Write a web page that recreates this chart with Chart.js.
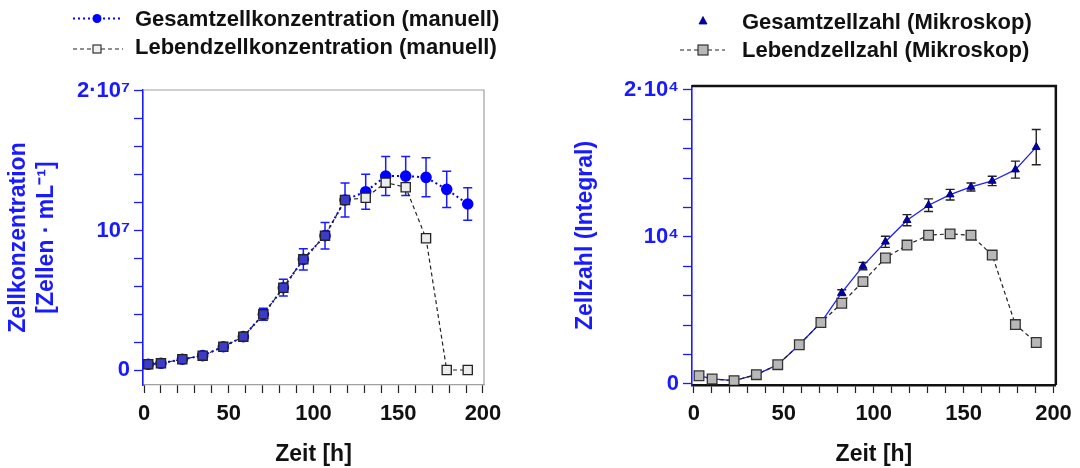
<!DOCTYPE html>
<html><head><meta charset="utf-8">
<script src="https://cdn.jsdelivr.net/npm/chart.js@4.4.1/dist/chart.umd.min.js"></script>
<style>
body{margin:0;background:#fff;width:1080px;height:468px;overflow:hidden;position:relative;font-family:"Liberation Sans",Arial,sans-serif;}
canvas{position:absolute;top:0;}
.leg{position:absolute;font-weight:bold;font-size:22px;color:#111;white-space:nowrap;line-height:26px;}
svg{position:absolute;left:0;top:0;}
</style></head><body>
<canvas id="c1" width="540" height="468" style="left:0"></canvas>
<canvas id="c2" width="540" height="468" style="left:540px"></canvas>
<svg width="1080" height="70">
  <line x1="73" y1="18.5" x2="123" y2="18.5" stroke="#0000ff" stroke-width="2" stroke-dasharray="2,3"/>
  <circle cx="97" cy="18.5" r="4.5" fill="#0000ff"/>
  <line x1="73" y1="49" x2="123" y2="49" stroke="#222" stroke-width="1.2" stroke-dasharray="4,3"/>
  <rect x="93" y="45" width="8" height="8" fill="#f0f0f0" stroke="#333" stroke-width="1.2"/>
  <polygon points="703,16.5 707,24 699,24" fill="#0000b0" stroke="#000070" stroke-width="0.8"/>
  <line x1="680" y1="50" x2="725" y2="50" stroke="#222" stroke-width="1.2" stroke-dasharray="4,3"/>
  <rect x="698" y="45" width="10" height="10" fill="#b8b8b8" stroke="#333" stroke-width="1.2"/>
</svg>
<div class="leg" style="left:135px;top:6px">Gesamtzellkonzentration (manuell)</div>
<div class="leg" style="left:135px;top:34px">Lebendzellkonzentration (manuell)</div>
<div class="leg" style="left:742px;top:9px">Gesamtzellzahl (Mikroskop)</div>
<div class="leg" style="left:742px;top:37px">Lebendzellzahl (Mikroskop)</div>
<script>
// ---- data: left panel (manual counts) ----
const timeManual = [2.5,10,22.6,34.6,46.8,58.6,70.4,82.2,94,106.8,118.6,130.8,142.6,154.4,166.4,178.6,191];
const totalManual = [0.41e6,0.48e6,0.77e6,1.03e6,1.67e6,2.39e6,3.99e6,5.9e6,7.93e6,9.63e6,12.19e6,12.78e6,13.9e6,13.9e6,13.81e6,12.95e6,11.9e6];
const totalManualErr = [0.03e6,0.04e6,0.06e6,0.08e6,0.13e6,0.19e6,0.43e6,0.6e6,0.77e6,0.95e6,1.22e6,1.25e6,1.4e6,1.4e6,1.4e6,1.3e6,1.17e6];
const liveManual = [0.41e6,0.48e6,0.77e6,1.03e6,1.67e6,2.39e6,3.99e6,5.9e6,7.93e6,9.63e6,12.19e6,12.35e6,13.43e6,13.1e6,9.44e6,0,0];
// ---- data: right panel (microscope) ----
const timeMicro = [2.8,10.1,22.3,34.7,46.6,58.6,70.6,82.2,94,106.5,118.5,130.5,142.5,154.1,165.9,178.8,190.4];
const totalMicro = [560,340,226,632,1310,2667,4180,6210,8020,9670,11140,12160,12880,13400,13810,14580,16110];
const totalMicroErr = [40,40,40,50,80,120,150,200,250,380,380,430,360,270,320,580,1200];
const liveMicro = [560,340,226,632,1310,2667,4180,5490,6960,8570,9450,10120,10210,10120,8770,4040,2820];
// ---- tick labels ----
const xTickValues = [0,10,20,30,40,50,60,70,80,90,100,110,120,130,140,150,160,170,180,190,200];
const xTickLabels = {0:'0',50:'50',100:'100',150:'150',200:'200'};
const leftYTickValues = [0,2e6,4e6,6e6,8e6,1e7,1.2e7,1.4e7,1.6e7,1.8e7,2e7];
const leftYTickLabels = {0:'0',10000000:'10⁷',20000000:'2·10⁷'};
const rightYTickValues = [0,2000,4000,6000,8000,10000,12000,14000,16000,18000,20000];
const rightYTickLabels = {0:'0',10000:'10⁴',20000:'2·10⁴'};

const FONT = '"Liberation Sans", Arial, sans-serif';
const BLUE = '#1a1aff';

const errorBarPlugin = {
  id: 'errorBars',
  beforeDatasetsDraw(chart, args, opts) {
    const meta = chart.getDatasetMeta(opts.datasetIndex);
    const ds = chart.data.datasets[opts.datasetIndex];
    const ys = chart.scales.y;
    const ctx = chart.ctx;
    ctx.save();
    ctx.strokeStyle = opts.color; ctx.lineWidth = opts.width;
    meta.data.forEach((pt, i) => {
      const v = ds.data[i].y, e = opts.errors[i];
      const yt = ys.getPixelForValue(v + e), yb = ys.getPixelForValue(v - e);
      const x = pt.x;
      ctx.beginPath();
      ctx.moveTo(x, yt); ctx.lineTo(x, yb);
      ctx.moveTo(x - opts.cap, yt); ctx.lineTo(x + opts.cap, yt);
      ctx.moveTo(x - opts.cap, yb); ctx.lineTo(x + opts.cap, yb);
      ctx.stroke();
    });
    ctx.restore();
  }
};
const framePlugin = {
  id: 'frame',
  afterDraw(chart, args, opts) {
    const {left, right, top, bottom} = chart.chartArea;
    const ctx = chart.ctx;
    ctx.save();
    ctx.strokeStyle = opts.color; ctx.lineWidth = opts.width;
    ctx.beginPath();
    ctx.moveTo(left, top); ctx.lineTo(right, top); ctx.lineTo(right, bottom);
    ctx.stroke();
    ctx.restore();
  }
};

function pts(xs, ys) { return xs.map((x, i) => ({x: x, y: ys[i]})); }

function xScale(min, max, borderColor, borderWidth) {
  return {
    type: 'linear', min: min, max: max,
    afterBuildTicks: s => { s.ticks = xTickValues.map(v => ({value: v})); },
    afterFit: s => { s.height = 83; },
    ticks: { autoSkip: false, color: '#111', padding: 8, maxRotation: 0,
      font: {family: FONT, size: 22, weight: 'bold'},
      callback: v => xTickLabels[v] !== undefined ? xTickLabels[v] : '' },
    grid: { drawOnChartArea: false, drawTicks: true, tickLength: 8, tickColor: '#222', tickWidth: 1.2 },
    border: { display: true, color: borderColor, width: borderWidth },
    title: { display: true, text: 'Zeit [h]', color: '#111', padding: {top: 0, bottom: 0},
      font: {family: FONT, size: 23, weight: 'bold'} }
  };
}
function yScale(min, max, values, labels, width, titleText, titlePad) {
  return {
    type: 'linear', min: min, max: max,
    afterBuildTicks: s => { s.ticks = values.map(v => ({value: v})); },
    afterFit: s => { s.width = width; },
    ticks: { autoSkip: false, color: BLUE, padding: 4,
      font: {family: FONT, size: 22, weight: 'bold'},
      callback: v => labels[v] !== undefined ? labels[v] : '' },
    grid: { drawOnChartArea: false, drawTicks: true, tickLength: 9, tickColor: BLUE, tickWidth: 1.3 },
    border: { display: true, color: BLUE, width: 1.6 },
    title: { display: true, text: titleText, color: BLUE, padding: {top: titlePad, bottom: 0},
      font: {family: FONT, size: 23, weight: 'bold', lineHeight: 1.25} }
  };
}

new Chart(document.getElementById('c1'), {
  type: 'line',
  data: { datasets: [
    { label: 'Lebendzellkonzentration (manuell)', data: pts(timeManual, liveManual),
      borderColor: '#222', borderWidth: 1.2, borderDash: [4,3], pointStyle: 'rect', pointRadius: 6.5,
      pointBackgroundColor: c => c.dataIndex <= 10 ? '#3c3cc8' : '#ececec',
      pointBorderColor: '#222', pointBorderWidth: 1.3, tension: 0 },
    { label: 'Gesamtzellkonzentration (manuell)', data: pts(timeManual, totalManual),
      borderColor: '#0000ff', borderWidth: 2, borderDash: [2,3], pointStyle: 'circle', pointRadius: 4.8,
      pointBackgroundColor: '#0000ff', pointBorderColor: '#0000ff', tension: 0 }
  ]},
  options: {
    responsive: false, animation: false, events: [],
    layout: { padding: {top: 90, right: 56, left: 0, bottom: 0} },
    scales: {
      x: xScale(-0.6, 200.6, '#a0a0a0', 1.2),
      y: yScale(-1.075e6, 2.007e7, leftYTickValues, leftYTickLabels, 143,
        ['Zellkonzentration', '[Zellen · mL⁻¹]'], 4)
    },
    plugins: { legend: {display: false}, tooltip: {enabled: false},
      errorBars: { datasetIndex: 1, errors: totalManualErr, color: BLUE, width: 1.5, cap: 4.5 },
      frame: { color: '#a0a0a0', width: 1.2 } }
  },
  plugins: [errorBarPlugin, framePlugin]
});

new Chart(document.getElementById('c2'), {
  type: 'line',
  data: { datasets: [
    { label: 'Lebendzellzahl (Mikroskop)', data: pts(timeMicro, liveMicro),
      borderColor: '#222', borderWidth: 1.2, borderDash: [4,3], pointStyle: 'rect', pointRadius: 6.8,
      pointBackgroundColor: '#b8b8b8', pointBorderColor: '#333', pointBorderWidth: 1.3, tension: 0 },
    { label: 'Gesamtzellzahl (Mikroskop)', data: pts(timeMicro, totalMicro),
      borderColor: '#2020ff', borderWidth: 1.3, pointStyle: 'triangle', pointRadius: 4.5,
      pointBackgroundColor: '#0000b0', pointBorderColor: '#000070', pointBorderWidth: 1, tension: 0 }
  ]},
  options: {
    responsive: false, animation: false, events: [],
    layout: { padding: {top: 86, right: 22, left: 0, bottom: 0} },
    scales: {
      x: xScale(-1.1, 201.3, '#111', 2.5),
      y: yScale(-70, 20270, rightYTickValues, rightYTickLabels, 152, 'Zellzahl (Integral)', 31)
    },
    plugins: { legend: {display: false}, tooltip: {enabled: false},
      errorBars: { datasetIndex: 1, errors: totalMicroErr, color: '#222', width: 1.4, cap: 4.5 },
      frame: { color: '#111', width: 2.5 } }
  },
  plugins: [errorBarPlugin, framePlugin]
});
</script>
</body></html>
